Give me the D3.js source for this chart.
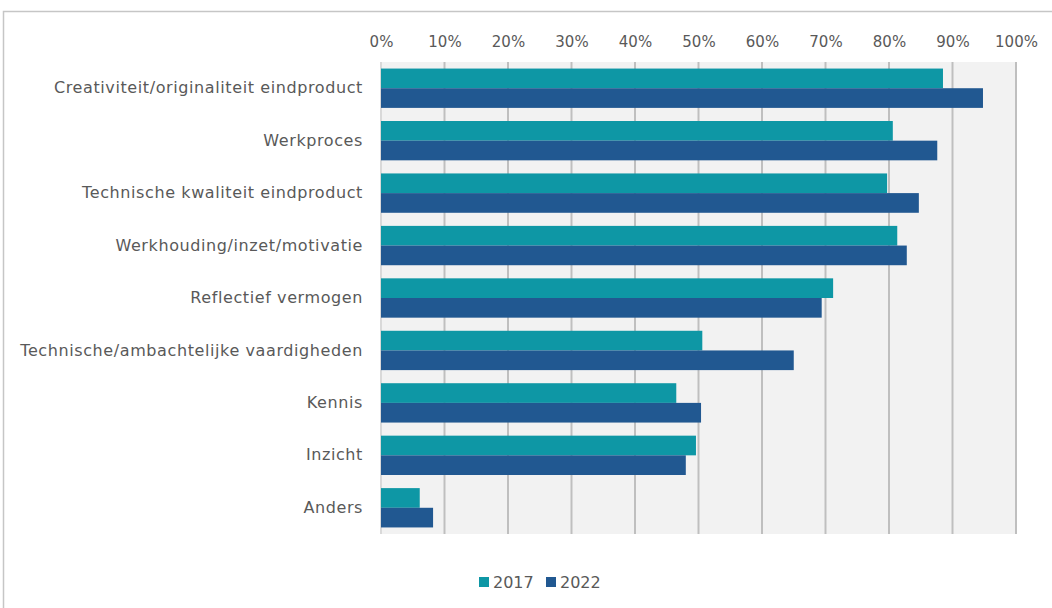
<!DOCTYPE html>
<html><head><meta charset="utf-8">
<script src="https://cdn.jsdelivr.net/npm/d3@7"></script>
<style>body{margin:0;background:#fff;} svg{display:block;font-family:"DejaVu Sans",sans-serif;}</style>
</head><body><svg id="c" width="1052" height="608"></svg>
<script>
const categories = ["Creativiteit/originaliteit eindproduct","Werkproces","Technische kwaliteit eindproduct","Werkhouding/inzet/motivatie","Reflectief vermogen","Technische/ambachtelijke vaardigheden","Kennis","Inzicht","Anders"];
const series = ["2017","2022"];
const values2017 = [88.5, 80.6, 79.7, 81.3, 71.2, 50.6, 46.5, 49.6, 6.1];
const values2022 = [94.8, 87.6, 84.7, 82.8, 69.4, 65.0, 50.4, 48.0, 8.2];
const tickValues = [0,10,20,30,40,50,60,70,80,90,100];
const colors = ["#0E97A5", "#215891"];

const svg = d3.select("#c");
svg.append("rect").attr("x",3.5).attr("y",11.5).attr("width",1200).attr("height",800)
  .attr("fill","#fff").attr("stroke","#c6c6c6").attr("stroke-width",1.5);

const x = d3.scaleLinear().domain([0,100]).range([381,1016]);
const y = d3.scaleBand().domain(categories).range([62,534]).paddingInner(0.25).paddingOuter(0.125);
const ySub = d3.scaleBand().domain(series).range([0,y.bandwidth()]);

svg.append("rect").attr("x",x(0)).attr("y",62).attr("width",x(100)-x(0)+1).attr("height",534-62).attr("fill","#F2F2F2");

const g = svg.append("g");
g.selectAll("line.grid").data(tickValues).join("line").attr("class","grid")
  .attr("x1",d=>x(d)).attr("x2",d=>x(d)).attr("y1",62).attr("y2",534)
  .attr("stroke",d=>d===0?"#d9d9d9":"#BFBFBF").attr("stroke-width",2);

const data = categories.map((c,i)=>({c, v:[values2017[i], values2022[i]]}));
const grp = g.selectAll("g.cat").data(data).join("g").attr("transform",d=>`translate(0,${y(d.c)})`);
grp.selectAll("rect").data(d=>d.v.map((v,j)=>({s:series[j],v,j}))).join("rect")
  .attr("x",x(0)).attr("y",d=>ySub(d.s)).attr("width",d=>x(d.v)-x(0)).attr("height",ySub.bandwidth())
  .attr("fill",d=>colors[d.j]);

const xAxis = d3.axisTop(x).tickValues(tickValues).tickFormat(d=>d+"%").tickSize(0).tickPadding(0);
const ax = svg.append("g").attr("transform","translate(0,47)").call(xAxis);
ax.select(".domain").remove();
ax.selectAll("text").attr("fill","#595959").attr("font-size",15).attr("font-family","DejaVu Sans, sans-serif");

const yAxis = d3.axisLeft(y).tickSize(0).tickPadding(18);
const ay = svg.append("g").attr("transform",`translate(${x(0)},0)`).call(yAxis);
ay.select(".domain").remove();
ay.selectAll("text").attr("fill","#595959").attr("font-size",16).attr("letter-spacing","0.6px")
  .attr("font-family","DejaVu Sans, sans-serif");

const leg = svg.append("g");
const legX = [479, 546];
series.forEach((s,i)=>{
  leg.append("rect").attr("x",legX[i]).attr("y",577).attr("width",10).attr("height",10).attr("fill",colors[i]);
  leg.append("text").attr("x",legX[i]+14).attr("y",582).attr("dy","0.35em").attr("fill","#595959")
    .attr("font-size",16).text(s);
});
</script></body></html>
